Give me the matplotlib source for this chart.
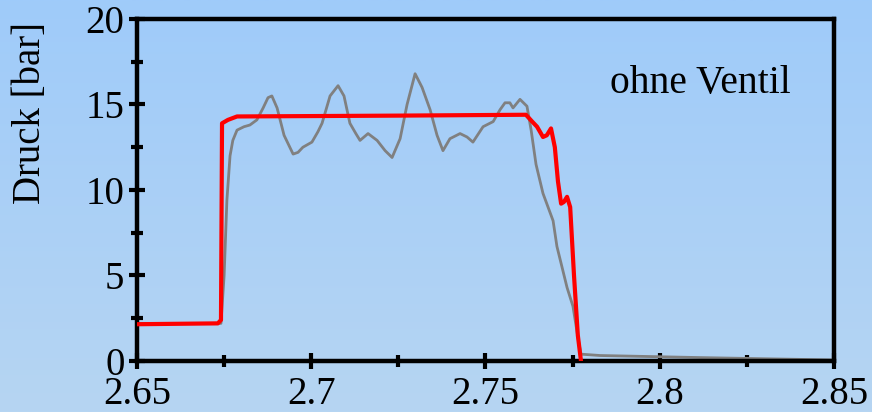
import numpy as np
import matplotlib
matplotlib.use("Agg")
import matplotlib.pyplot as plt
from matplotlib.colors import LinearSegmentedColormap
from matplotlib.ticker import MultipleLocator

plt.rcParams['font.family'] = ['Liberation Serif', 'DejaVu Serif']

# Messung (grau)
t_mess = [2.65, 2.6741, 2.6750, 2.6758, 2.6767, 2.6775, 2.6787, 2.6807, 2.6824,
          2.6844, 2.6862, 2.6876, 2.6887, 2.6902, 2.6922, 2.6948, 2.6962, 2.6976,
          2.7002, 2.7019, 2.7031, 2.7054, 2.7077, 2.7094, 2.7111, 2.7128, 2.7140,
          2.7163, 2.7189, 2.7212, 2.7232, 2.7255, 2.7275, 2.7298, 2.7318, 2.7341,
          2.7361, 2.7378, 2.7398, 2.7427, 2.7447, 2.7464, 2.7493, 2.7522, 2.7542,
          2.7556, 2.7570, 2.7579, 2.7599, 2.7619, 2.7631, 2.7645, 2.7665, 2.7694,
          2.7705, 2.7734, 2.7751, 2.7765, 2.7774, 2.7829, 2.8115, 2.8497]
p_mess = [2.2, 2.2, 5.0, 9.4, 12.0, 12.9, 13.5, 13.7, 13.8,
          14.1, 14.8, 15.4, 15.5, 14.8, 13.2, 12.1, 12.2, 12.5,
          12.8, 13.4, 13.9, 15.5, 16.1, 15.5, 13.9, 13.3, 12.9,
          13.3, 12.9, 12.3, 11.9, 13.0, 15.0, 16.8, 16.0, 14.7,
          13.2, 12.3, 13.0, 13.3, 13.1, 12.8, 13.7, 14.0, 14.7,
          15.1, 15.1, 14.8, 15.3, 14.9, 13.5, 11.5, 9.8, 8.2,
          6.7, 4.3, 3.2, 1.4, 0.4, 0.32, 0.2, 0.06]

# Simulation (rot)
t_sim = [2.65, 2.6732, 2.6741, 2.6744, 2.6761, 2.6787, 2.7255, 2.7616, 2.7634,
         2.7648, 2.7665, 2.7676, 2.7688, 2.7699, 2.7708, 2.7717, 2.7725, 2.7734,
         2.7743, 2.7754, 2.7765, 2.7774]
p_sim = [2.15, 2.2, 2.4, 13.9, 14.1, 14.3, 14.35, 14.4, 14.0,
         13.7, 13.1, 13.2, 13.6, 12.5, 10.5, 9.2, 9.3, 9.6,
         9.0, 5.0, 1.5, 0.0]

x_ticks = [2.65, 2.7, 2.75, 2.8, 2.85]
x_ticklabels = ['2.65', '2.7', '2.75', '2.8', '2.85']
y_ticks = [0, 5, 10, 15, 20]

fig = plt.figure(figsize=(8.72, 4.12), dpi=100)

# Hintergrund mit Farbverlauf
bg = fig.add_axes([0, 0, 1, 1], zorder=-1)
cmap = LinearSegmentedColormap.from_list('bg', ['#b6d5f2', '#9fcbfa'])
bg.imshow(np.linspace(0, 1, 256).reshape(-1, 1), aspect='auto', cmap=cmap,
          origin='lower', extent=[0, 1, 0, 1])
bg.axis('off')

ax = fig.add_axes([0.1571, 0.1238, 0.7993, 0.8301])
ax.set_facecolor('none')

ax.plot(t_mess, p_mess, color='#808080', lw=2.0, zorder=2)
ax.plot(t_sim, p_sim, color='#ff0000', lw=3.0, zorder=3, solid_joinstyle='round')

ax.set_xlim(2.65, 2.85)
ax.set_ylim(0, 20)
ax.set_xticks(x_ticks)
ax.set_xticklabels(x_ticklabels)
ax.set_yticks(y_ticks)
ax.xaxis.set_minor_locator(MultipleLocator(0.025))
ax.yaxis.set_minor_locator(MultipleLocator(2.5))

for s in ax.spines.values():
    s.set_linewidth(3.2)
ax.tick_params(which='major', direction='inout', length=12, width=3,
               labelsize=28, top=False, right=False)
ax.tick_params(axis='x', which='major', pad=4.5)
ax.tick_params(axis='y', which='major', pad=3)
ax.tick_params(which='minor', direction='inout', length=8, width=3,
               top=False, right=False)

ax.set_ylabel('Druck [bar]', fontsize=28)
ax.yaxis.set_label_coords(-0.126, 0.725)
ax.text(0.678, 0.784, 'ohne Ventil', transform=ax.transAxes, fontsize=28.5)

fig.savefig('out.png', dpi=100)
